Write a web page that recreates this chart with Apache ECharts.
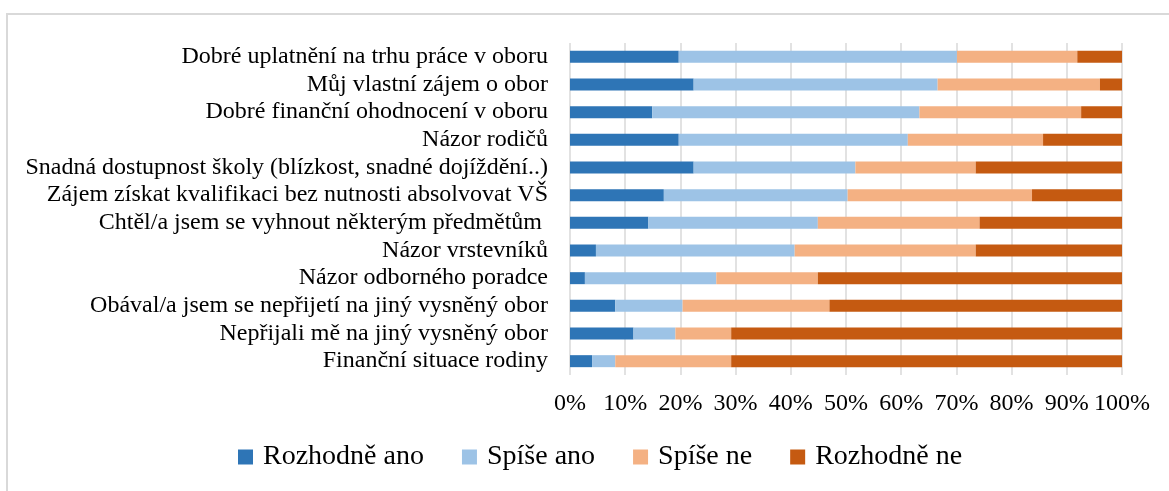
<!DOCTYPE html>
<html lang="cs">
<head>
    <meta charset="UTF-8"/>
    <title>Důvody volby oboru</title>
    <script src="https://cdn.jsdelivr.net/npm/echarts@6/dist/echarts.min.js"></script>
    <style>
        html, body { margin: 0; padding: 0; background: #fff; }
        #main { width: 1169px; height: 491px; }
    </style>
</head>
<body>
<div id="main"></div>
<script>
    // kategorie odshora dolu (v grafu se kresli odspodu, proto se obraci)
    var categories = [
        'Dobré uplatnění na trhu práce v oboru',
        'Můj vlastní zájem o obor',
        'Dobré finanční ohodnocení v oboru',
        'Názor rodičů',
        'Snadná dostupnost školy (blízkost, snadné dojíždění..)',
        'Zájem získat kvalifikaci bez nutnosti absolvovat VŠ',
        'Chtěl/a jsem se vyhnout některým předmětům ',
        'Názor vrstevníků',
        'Názor odborného poradce',
        'Obával/a jsem se nepřijetí na jiný vysněný obor',
        'Nepřijali mě na jiný vysněný obor',
        'Finanční situace rodiny'
    ];
    var seriesNames = ['Rozhodně ano', 'Spíše ano', 'Spíše ne', 'Rozhodně ne'];
    // hodnoty v %
    var rozhodneAno = [19.7, 22.4, 14.9, 19.7, 22.4, 17.0, 14.2, 4.7, 2.7, 8.2, 11.5, 4.0];
    var spiseAno    = [50.4, 44.2, 48.4, 41.5, 29.3, 33.3, 30.7, 36.0, 23.8, 12.2, 7.6, 4.2];
    var spiseNe     = [21.8, 29.4, 29.3, 24.5, 21.8, 33.4, 29.3, 32.8, 18.4, 26.6, 10.1, 21.0];
    var rozhodneNe  = [8.1, 4.0, 7.4, 14.3, 26.5, 16.3, 25.8, 26.5, 55.1, 53.0, 70.8, 70.8];
    var colors = ['#2E75B6', '#9DC3E6', '#F4B183', '#C55A11'];

    var font = 'Liberation Serif';
    var myChart = echarts.init(document.getElementById('main'));

    var allData = [rozhodneAno, spiseAno, spiseNe, rozhodneNe];
    var series = [];
    for (var i = 0; i < seriesNames.length; i++) {
        series.push({
            name: seriesNames[i],
            type: 'bar',
            stack: 'total',
            barWidth: 12,
            itemStyle: { color: colors[i] },
            data: allData[i].slice().reverse()
        });
    }

    myChart.setOption({
        animation: false,
        textStyle: { fontFamily: font, color: '#000' },
        graphic: [{
            type: 'rect',
            shape: { x: 7, y: 14, width: 1200, height: 600 },
            style: { fill: null, stroke: '#d9d9d9', lineWidth: 2 },
            silent: true
        }],
        legend: {
            left: 233,
            top: 438,
            itemWidth: 15,
            itemHeight: 15,
            itemGap: 38,
            icon: 'rect',
            textStyle: { fontFamily: font, fontSize: 28, color: '#000', padding: [0, 0, 0, 5] },
            data: seriesNames
        },
        grid: { left: 570, right: 47, top: 43, bottom: 116, containLabel: false },
        xAxis: {
            type: 'value',
            min: 0,
            max: 100,
            interval: 10,
            axisLine: { show: false },
            axisTick: { show: false },
            splitLine: { lineStyle: { color: '#d9d9d9', width: 1.5 } },
            axisLabel: {
                formatter: '{value}%',
                margin: 17,
                fontFamily: font,
                fontSize: 24,
                color: '#000'
            }
        },
        yAxis: {
            type: 'category',
            data: categories.slice().reverse(),
            axisLine: { show: false },
            axisTick: { show: false },
            axisLabel: {
                margin: 22,
                fontFamily: font,
                fontSize: 24,
                color: '#000',
                interval: 0
            }
        },
        series: series
    });
</script>
</body>
</html>
